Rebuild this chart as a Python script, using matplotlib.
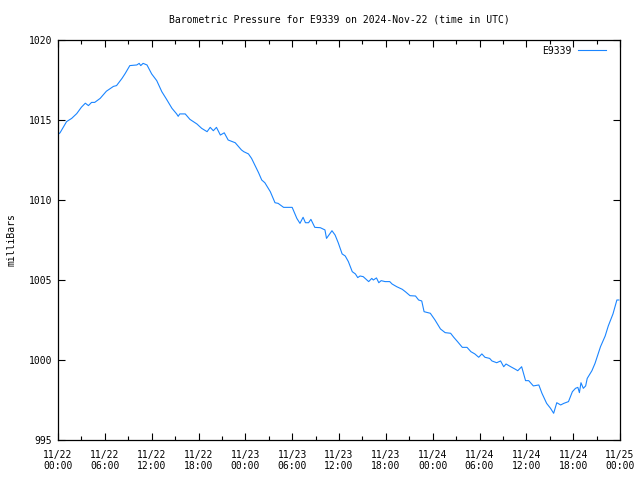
import matplotlib
matplotlib.use("Agg")
import matplotlib.pyplot as plt
from matplotlib.ticker import MultipleLocator

# time in hours since 2024-11-22 00:00 UTC
hours = [0.0, 0.26, 1.1, 1.75, 2.4, 3.0, 3.5, 3.9, 4.3, 4.7, 5.4, 6.2, 7.1, 7.5, 8.2, 8.6,
         9.2, 10.1, 10.4, 10.6, 10.9, 11.4, 12.0, 12.65, 13.3, 13.9, 14.6, 15.2, 15.4, 15.6,
         16.3, 16.9, 17.8, 18.4, 19.1, 19.5, 19.9, 20.3, 20.8, 21.3, 21.8, 22.7, 23.5, 23.8,
         24.4, 24.8, 25.7, 26.1, 26.5, 27.2, 27.8, 28.2, 28.9, 30.0, 30.6, 31.0, 31.4, 31.7,
         32.1, 32.4, 32.9, 33.6, 34.2, 34.4, 35.1, 35.5, 35.9, 36.4, 36.8, 37.2, 37.7, 38.1,
         38.4, 38.7, 39.1, 39.8, 40.2, 40.4, 40.8, 41.1, 41.4, 41.9, 42.5, 42.8, 43.4, 44.1,
         44.5, 45.1, 45.8, 46.2, 46.6, 46.9, 47.7, 48.3, 49.0, 49.6, 50.3, 50.7, 51.2, 51.8,
         52.4, 52.9, 53.4, 53.9, 54.3, 54.7, 55.3, 55.6, 56.2, 56.7, 57.1, 57.4, 58.0, 58.6,
         58.9, 59.4, 59.9, 60.3, 60.9, 61.6, 62.0, 62.6, 63.1, 63.5, 63.9, 64.4, 64.8, 65.4,
         65.9, 66.3, 66.6, 66.8, 67.0, 67.3, 67.6, 67.8, 68.4, 68.8, 69.5, 70.1, 70.5, 71.1,
         71.6, 71.85]
pressure = [1014.1, 1014.2, 1014.9, 1015.1, 1015.4, 1015.8, 1016.05, 1015.9, 1016.1, 1016.1,
            1016.35, 1016.8, 1017.1, 1017.15, 1017.6, 1017.9, 1018.4, 1018.44, 1018.54, 1018.4,
            1018.54, 1018.44, 1017.88, 1017.46, 1016.77, 1016.3, 1015.73, 1015.38, 1015.23,
            1015.38, 1015.38, 1015.04, 1014.75, 1014.48, 1014.27, 1014.54, 1014.33, 1014.54,
            1014.06, 1014.2, 1013.75, 1013.58, 1013.13, 1013.02, 1012.88, 1012.6, 1011.7,
            1011.25, 1011.08, 1010.52, 1009.83, 1009.79, 1009.54, 1009.54, 1008.85, 1008.54,
            1008.92, 1008.58, 1008.58, 1008.79, 1008.29, 1008.27, 1008.13, 1007.6, 1008.08,
            1007.81, 1007.33, 1006.63, 1006.5, 1006.15, 1005.52, 1005.38, 1005.15, 1005.25,
            1005.21, 1004.9, 1005.1, 1005.0, 1005.13, 1004.83, 1004.96, 1004.9, 1004.9,
            1004.75, 1004.58, 1004.42, 1004.27, 1004.02, 1004.0, 1003.75, 1003.69, 1003.02,
            1002.92, 1002.5, 1001.94, 1001.71, 1001.67, 1001.42, 1001.14, 1000.79, 1000.79,
            1000.52, 1000.38, 1000.17, 1000.38, 1000.17, 1000.1, 999.94, 999.83, 999.94,
            999.58, 999.75, 999.58, 999.42, 999.33, 999.58, 998.71, 998.71, 998.38, 998.44,
            997.92, 997.29, 996.98, 996.67, 997.33, 997.19, 997.29, 997.4, 998.02, 998.23,
            998.29, 997.96, 998.58, 998.23, 998.38, 998.85, 999.33, 999.79, 1000.83, 1001.5,
            1002.13, 1002.88, 1003.75, 1003.75]

xtick_pos = [0, 6, 12, 18, 24, 30, 36, 42, 48, 54, 60, 66, 72]
xtick_labels = ["11/22\n00:00", "11/22\n06:00", "11/22\n12:00", "11/22\n18:00",
                "11/23\n00:00", "11/23\n06:00", "11/23\n12:00", "11/23\n18:00",
                "11/24\n00:00", "11/24\n06:00", "11/24\n12:00", "11/24\n18:00",
                "11/25\n00:00"]
yticks = [995, 1000, 1005, 1010, 1015, 1020]

plt.rcParams['font.family'] = ['DejaVu Sans Mono']
fs = 7

fig = plt.figure(figsize=(6.4, 4.8), dpi=100)
ax = fig.add_axes([58/640, 40/480, (620-58)/640, (440-40)/480])
ax.plot(hours, pressure, color='#1a85ff', lw=0.8, label='E9339')
ax.set_xlim(0, 72)
ax.set_ylim(995, 1020)
ax.set_xticks(xtick_pos)
ax.set_xticklabels(xtick_labels, fontsize=fs)
ax.xaxis.set_minor_locator(MultipleLocator(3))
ax.set_yticks(yticks)
ax.set_yticklabels([str(v) for v in yticks], fontsize=fs)
ax.tick_params(which='both', direction='in', top=True, right=True, width=0.8)
ax.tick_params(which='major', length=5, pad=4)
ax.tick_params(axis='x', which='major', pad=7)
ax.tick_params(which='minor', length=3)
for s in ax.spines.values():
    s.set_linewidth(0.9)
ax.set_ylabel('milliBars', fontsize=fs, labelpad=9)
fig.text(339/640, 1 - 19/480, 'Barometric Pressure for E9339 on 2024-Nov-22 (time in UTC)',
         ha='center', va='center', fontsize=fs)
leg = ax.legend(loc='upper right', frameon=False, fontsize=fs, markerfirst=False,
                handlelength=2.9, borderaxespad=0.0, handletextpad=0.7,
                bbox_to_anchor=(1 - 10/562, 1 - 2/400))
fig.savefig('out.png', dpi=100)
